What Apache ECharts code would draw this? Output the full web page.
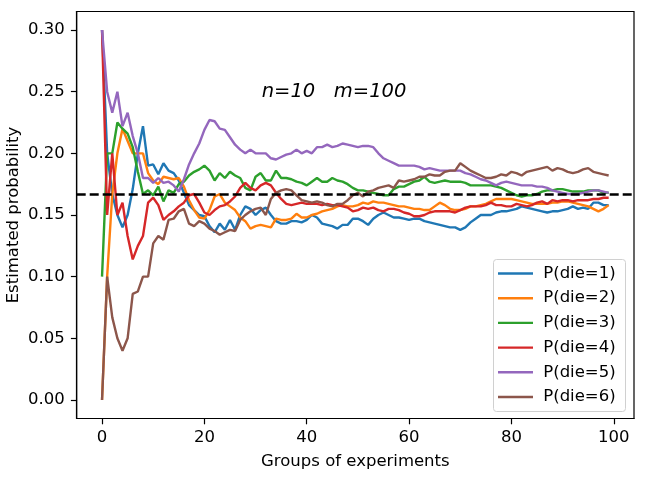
<!DOCTYPE html>
<html><head><meta charset="utf-8">
<script src="https://cdn.jsdelivr.net/npm/echarts@6/dist/echarts.min.js"></script>
<style>html,body{margin:0;padding:0;background:#fff}#c{width:664px;height:481px}</style>
</head><body><div id="c"></div>
<script>
const groups = [];
for (let i = 0; i < 100; i++) groups.push(i);

const p1 = [0.30,0.20,0.167,0.15,0.14,0.15,0.171,0.20,0.222,0.19,
 0.191,0.183,0.192,0.186,0.184,0.178,0.168,0.158,0.154,0.150,
 0.149,0.141,0.136,0.143,0.138,0.146,0.138,0.150,0.157,0.155,
 0.150,0.154,0.156,0.150,0.145,0.143,0.143,0.145,0.145,0.144,
 0.146,0.150,0.148,0.143,0.142,0.141,0.139,0.142,0.142,0.147,
 0.147,0.145,0.142,0.147,0.150,0.152,0.150,0.148,0.148,0.147,
 0.146,0.147,0.147,0.145,0.144,0.143,0.142,0.141,0.140,0.140,
 0.138,0.140,0.144,0.147,0.150,0.150,0.150,0.152,0.153,0.153,
 0.154,0.155,0.157,0.156,0.155,0.154,0.153,0.152,0.153,0.153,
 0.154,0.155,0.157,0.155,0.156,0.155,0.160,0.160,0.158,0.158];
const p2 = [0.0,0.10,0.167,0.20,0.22,0.21,0.20,0.20,0.20,0.184,
 0.178,0.175,0.181,0.18,0.179,0.18,0.173,0.162,0.154,0.148,
 0.147,0.154,0.165,0.167,0.160,0.157,0.154,0.148,0.145,0.139,
 0.141,0.142,0.141,0.140,0.147,0.146,0.146,0.147,0.151,0.148,
 0.148,0.150,0.151,0.153,0.154,0.155,0.157,0.158,0.157,0.157,
 0.158,0.160,0.159,0.161,0.160,0.160,0.159,0.158,0.157,0.157,
 0.156,0.155,0.155,0.154,0.154,0.157,0.160,0.158,0.155,0.154,
 0.154,0.155,0.157,0.157,0.158,0.159,0.161,0.163,0.163,0.163,
 0.163,0.162,0.161,0.160,0.159,0.159,0.159,0.159,0.160,0.160,
 0.161,0.161,0.160,0.159,0.158,0.157,0.155,0.153,0.155,0.158];
const p3 = [0.10,0.20,0.20,0.225,0.22,0.216,0.205,0.185,0.167,0.17,
 0.166,0.173,0.161,0.17,0.168,0.175,0.177,0.182,0.185,0.187,
 0.19,0.186,0.178,0.184,0.18,0.185,0.182,0.18,0.172,0.170,
 0.181,0.184,0.178,0.178,0.186,0.18,0.18,0.179,0.177,0.176,
 0.174,0.177,0.180,0.177,0.177,0.18,0.178,0.177,0.175,0.172,
 0.170,0.170,0.169,0.168,0.167,0.166,0.166,0.171,0.173,0.173,
 0.175,0.177,0.178,0.181,0.177,0.176,0.177,0.178,0.177,0.177,
 0.177,0.176,0.174,0.174,0.174,0.174,0.174,0.173,0.172,0.170,
 0.168,0.166,0.165,0.166,0.166,0.167,0.169,0.170,0.170,0.171,
 0.171,0.170,0.169,0.169,0.169,0.170,0.170,0.170,0.168,0.168];
const p4 = [0.30,0.15,0.20,0.15,0.16,0.133,0.114,0.125,0.133,0.16,
 0.164,0.158,0.146,0.150,0.153,0.157,0.160,0.166,0.167,0.160,
 0.152,0.150,0.154,0.157,0.158,0.161,0.165,0.172,0.176,0.172,
 0.170,0.174,0.176,0.174,0.168,0.163,0.159,0.158,0.159,0.160,
 0.159,0.159,0.159,0.158,0.159,0.158,0.158,0.157,0.156,0.153,
 0.154,0.156,0.155,0.156,0.154,0.153,0.155,0.155,0.154,0.152,
 0.151,0.149,0.149,0.150,0.152,0.153,0.153,0.153,0.153,0.152,
 0.154,0.156,0.157,0.157,0.157,0.158,0.160,0.158,0.158,0.157,
 0.157,0.159,0.158,0.157,0.158,0.160,0.161,0.159,0.162,0.161,
 0.162,0.162,0.161,0.162,0.162,0.162,0.163,0.163,0.164,0.164];
const p5 = [0.30,0.25,0.233,0.25,0.222,0.233,0.214,0.20,0.18,0.18,
 0.176,0.18,0.176,0.177,0.174,0.169,0.179,0.191,0.200,0.208,
 0.219,0.227,0.226,0.220,0.219,0.213,0.207,0.203,0.200,0.203,
 0.200,0.200,0.200,0.196,0.195,0.197,0.199,0.200,0.203,0.200,
 0.202,0.200,0.205,0.205,0.207,0.205,0.206,0.208,0.207,0.206,
 0.205,0.206,0.206,0.205,0.200,0.196,0.194,0.192,0.190,0.190,
 0.190,0.190,0.189,0.187,0.188,0.187,0.186,0.186,0.186,0.186,
 0.186,0.184,0.183,0.181,0.179,0.178,0.176,0.174,0.176,0.177,
 0.176,0.175,0.174,0.174,0.174,0.173,0.173,0.172,0.170,0.169,
 0.168,0.167,0.167,0.167,0.168,0.169,0.170,0.170,0.169,0.168];
const p6 = [0.0,0.10,0.067,0.05,0.04,0.05,0.086,0.088,0.10,0.10,
 0.127,0.133,0.13,0.146,0.147,0.153,0.155,0.143,0.141,0.145,
 0.143,0.139,0.137,0.134,0.136,0.138,0.137,0.146,0.150,0.153,
 0.155,0.156,0.150,0.163,0.168,0.170,0.171,0.170,0.166,0.162,
 0.161,0.160,0.161,0.160,0.158,0.157,0.159,0.159,0.162,0.166,
 0.168,0.165,0.169,0.170,0.172,0.173,0.174,0.172,0.178,0.177,
 0.178,0.179,0.181,0.181,0.183,0.182,0.182,0.185,0.186,0.186,
 0.192,0.189,0.186,0.184,0.182,0.180,0.180,0.181,0.183,0.182,
 0.185,0.184,0.182,0.185,0.186,0.187,0.188,0.189,0.186,0.188,
 0.187,0.185,0.184,0.185,0.187,0.188,0.185,0.184,0.183,0.182];

const seriesNames = ['P(die=1)','P(die=2)','P(die=3)','P(die=4)','P(die=5)','P(die=6)'];
const seriesValues = [p1, p2, p3, p4, p5, p6];
const colors = ['#1f77b4','#ff7f0e','#2ca02c','#d62728','#9467bd','#8c564b'];
const xTicks = [0, 20, 40, 60, 80, 100];
const yTicks = [0, 0.05, 0.10, 0.15, 0.20, 0.25, 0.30];
const xRange = [-4.95, 103.95];
const yRange = [-0.015, 0.315];
const expectedProb = 1 / 6;
const annotation = 'n=10   m=100';
const annotationAt = [31.2, 0.2495];
const FONT = 'DejaVu Sans';

const chart = echarts.init(document.getElementById('c'), null, {renderer: 'canvas'});

const series = seriesValues.map((vals, k) => ({
  name: seriesNames[k],
  type: 'line',
  data: groups.map((g, i) => [g, vals[i]]),
  symbol: 'none',
  showSymbol: false,
  lineStyle: {width: 2.4, color: colors[k]},
  itemStyle: {color: colors[k]},
  z: 2 + k
}));
series.push({
  name: 'expected',
  type: 'line',
  data: [[xRange[0], expectedProb], [xRange[1], expectedProb]],
  symbol: 'none',
  showSymbol: false,
  silent: true,
  lineStyle: {type: [9, 4], color: '#000', width: 2.5},
  z: 20
});

chart.setOption({
  animation: false,
  backgroundColor: '#fff',
  grid: {left: 76.7, right: 30, top: 11.5, bottom: 62.5, outerBoundsMode: 'none', containLabel: false,
    show: true, borderColor: '#000', borderWidth: 1.2, backgroundColor: 'transparent'},
  xAxis: {
    type: 'value', min: xRange[0], max: xRange[1],
    name: 'Groups of experiments', nameLocation: 'middle', nameGap: 35, nameMoveOverlap: false,
    nameTextStyle: {fontFamily: FONT, fontSize: 16.5, color: '#000'},
    axisLine: {show: true, onZero: false, lineStyle: {color: '#000', width: 1.2}},
    axisTick: {show: true, length: 5.8, customValues: xTicks, lineStyle: {color: '#000', width: 1.2}},
    axisLabel: {customValues: xTicks, fontFamily: FONT, fontSize: 16.5, color: '#000', margin: 11},
    splitLine: {show: false}
  },
  yAxis: {
    type: 'value', min: yRange[0], max: yRange[1],
    name: 'Estimated probability', nameLocation: 'middle', nameGap: 54, nameMoveOverlap: false,
    nameTextStyle: {fontFamily: FONT, fontSize: 16.5, color: '#000'},
    axisLine: {show: true, onZero: false, lineStyle: {color: '#000', width: 1.2}},
    axisTick: {show: true, length: 5.8, customValues: yTicks, lineStyle: {color: '#000', width: 1.2}},
    axisLabel: {customValues: yTicks, fontFamily: FONT, fontSize: 16.5, color: '#000', margin: 12,
      formatter: v => v.toFixed(2)},
    splitLine: {show: false}
  },
  legend: {
    data: seriesNames,
    orient: 'vertical',
    left: 493, top: 259,
    padding: [6, 1, 7, 5],
    itemWidth: 35, itemHeight: 16, itemGap: 7.7,
    icon: 'path://M0,0H35V2.4H0Z',
    symbolKeepAspect: true,
    formatter: name => ' ' + name,
    backgroundColor: 'transparent',
    borderWidth: 0,
    z: 12,
    textStyle: {fontFamily: FONT, fontSize: 16.5, color: '#000'}
  },
  series: series
});

const pos = chart.convertToPixel({gridIndex: 0}, annotationAt);
chart.setOption({
  graphic: [{
    type: 'text', x: pos[0], y: pos[1], z: 30,
    style: {text: annotation, font: 'italic 19.5px "DejaVu Sans"', fill: '#000', textAlign: 'left', textVerticalAlign: 'middle'}
  }, {
    type: 'rect', z: 11, silent: true,
    shape: {x: 493.5, y: 259.5, width: 132, height: 152, r: 3},
    style: {fill: 'rgba(255,255,255,0.8)', stroke: '#d0d0d0', lineWidth: 1}
  }]
});
</script>
</body></html>
